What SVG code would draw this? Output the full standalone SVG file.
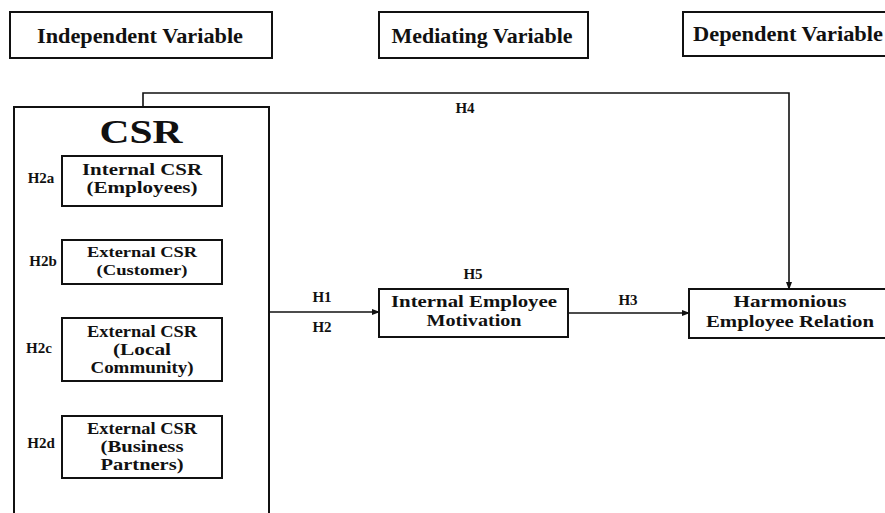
<svg xmlns="http://www.w3.org/2000/svg" width="885" height="513" viewBox="0 0 885 513">
<defs>
<style>
.b{fill:#fff;stroke:#111;stroke-width:2}
text{font-family:"Liberation Serif","DejaVu Serif",serif;font-weight:700;fill:#111;text-anchor:middle}
.hdr{font-size:21px}
.box{font-size:17px}
.sm{font-size:15.5px}
.lbl{font-size:15px}
.con{fill:none;stroke:#111;stroke-width:1.6}
</style>
<marker id="ah" markerWidth="8" markerHeight="8" refX="7" refY="4" orient="auto" markerUnits="userSpaceOnUse">
<path d="M0,1 L8,4 L0,7 z" fill="#111"/>
</marker>
</defs>
<rect width="885" height="513" fill="#fff"/>
<g id="hdr-independent"><rect class="b" x="10" y="12" width="262" height="46"/><text class="hdr" x="140" y="43" textLength="206" lengthAdjust="spacingAndGlyphs">Independent Variable</text></g>
<g id="hdr-mediating"><rect class="b" x="379" y="12" width="209" height="46"/><text class="hdr" x="482" y="43" textLength="181" lengthAdjust="spacingAndGlyphs">Mediating Variable</text></g>
<g id="hdr-dependent"><rect class="b" x="683" y="12" width="210" height="44"/><text class="hdr" x="788" y="41" textLength="190" lengthAdjust="spacingAndGlyphs">Dependent Variable</text></g>
<g id="csr"><path d="M14,520 V107 H269 V520" fill="#fff" stroke="#111" stroke-width="2"/><text x="141" y="143" font-size="34" textLength="83" lengthAdjust="spacingAndGlyphs">CSR</text></g>
<g id="internal-csr"><rect class="b" x="62" y="156" width="160" height="50"/><text class="box" x="142" y="175" textLength="120" lengthAdjust="spacingAndGlyphs">Internal CSR</text><text class="box" x="142" y="193" textLength="111" lengthAdjust="spacingAndGlyphs">(Employees)</text><text class="lbl" x="41" y="183" font-size="13">H2a</text></g>
<g id="external-customer"><rect class="b" x="62" y="240" width="160" height="44"/><text class="sm" x="142" y="257" textLength="110" lengthAdjust="spacingAndGlyphs">External CSR</text><text class="sm" x="142" y="275" textLength="91" lengthAdjust="spacingAndGlyphs">(Customer)</text><text class="lbl" x="43" y="266" font-size="13">H2b</text></g>
<g id="external-community"><rect class="b" x="62" y="318" width="160" height="63"/><text class="box" x="142" y="337" textLength="110" lengthAdjust="spacingAndGlyphs">External CSR</text><text class="box" x="142" y="355" textLength="58" lengthAdjust="spacingAndGlyphs">(Local</text><text class="box" x="142" y="373" textLength="103" lengthAdjust="spacingAndGlyphs">Community)</text><text class="lbl" x="39" y="353" font-size="13">H2c</text></g>
<g id="external-partners"><rect class="b" x="62" y="416" width="160" height="62"/><text class="box" x="142" y="434" textLength="110" lengthAdjust="spacingAndGlyphs">External CSR</text><text class="box" x="142" y="452" textLength="83" lengthAdjust="spacingAndGlyphs">(Business</text><text class="box" x="142" y="470" textLength="83" lengthAdjust="spacingAndGlyphs">Partners)</text><text class="lbl" x="41" y="448" font-size="13">H2d</text></g>
<g id="motivation"><rect class="b" x="379" y="289" width="189" height="48"/><text class="box" x="474" y="307" textLength="166" lengthAdjust="spacingAndGlyphs">Internal Employee</text><text class="box" x="474" y="326" textLength="95" lengthAdjust="spacingAndGlyphs">Motivation</text></g>
<g id="harmonious"><rect class="b" x="689" y="289" width="210" height="49"/><text class="box" x="790" y="307" textLength="113" lengthAdjust="spacingAndGlyphs">Harmonious</text><text class="box" x="790" y="327" textLength="168" lengthAdjust="spacingAndGlyphs">Employee Relation</text></g>
<g id="connectors">
<path class="con" d="M143,107 V93 H789 V289" marker-end="url(#ah)"/>
<path class="con" d="M269,312 H379" marker-end="url(#ah)"/>
<path class="con" d="M568,313 H689" marker-end="url(#ah)"/>
<text class="lbl" x="465" y="113">H4</text>
<text class="lbl" x="473" y="279" font-size="17">H5</text>
<text class="lbl" x="322" y="302">H1</text>
<text class="lbl" x="322" y="332">H2</text>
<text class="lbl" x="628" y="305">H3</text>
</g>
</svg>
